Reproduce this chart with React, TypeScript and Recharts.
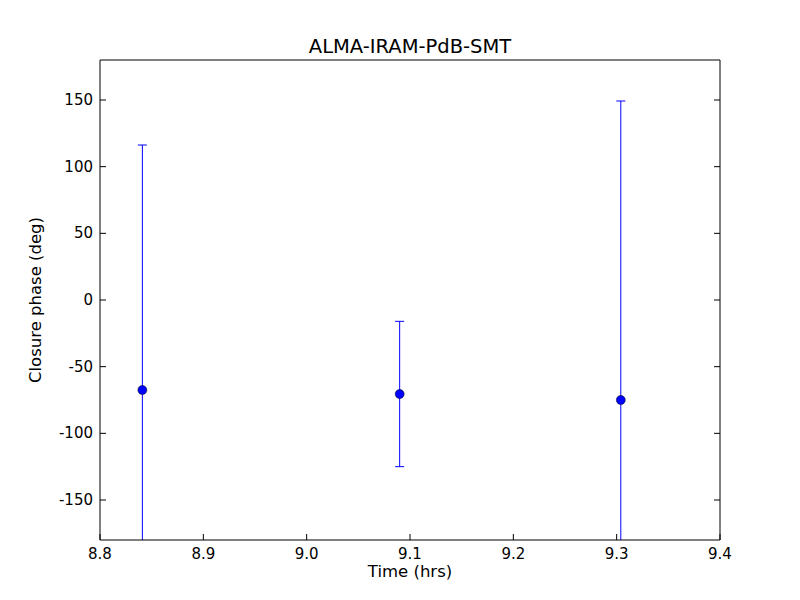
import { ErrorBar, Scatter, ScatterChart, XAxis, YAxis } from "recharts";

const TIMES = [8.841, 9.09, 9.304];
const PHASES = [-67.5, -70.5, -75];
const ERRORS = [183.75, 54.5, 224.25];
const X_TICKS = [8.8, 8.9, 9.0, 9.1, 9.2, 9.3, 9.4];
const Y_TICKS = [-150, -100, -50, 0, 50, 100, 150];

const FONT = "'DejaVu Sans', sans-serif";
const TICK_LEN = 6;
const TICK_FONT = 15;
const LABEL_FONT = 16.5;

const data = TIMES.map((t, i) => ({ t, phase: PHASES[i], err: ERRORS[i] }));

// matplotlib-style inward ticks; tickSize/tickMargin are 0 so x,y sit on the axis line
function BottomTick({ x, y, payload }: any) {
  return (
    <g>
      <line x1={x} y1={y} x2={x} y2={y - TICK_LEN} stroke="#000" />
      <text x={x} y={y + 19} textAnchor="middle" fontFamily={FONT} fontSize={TICK_FONT} fill="#000">
        {Number(payload.value).toFixed(1)}
      </text>
    </g>
  );
}

function LeftTick({ x, y, payload }: any) {
  return (
    <g>
      <line x1={x} y1={y} x2={x + TICK_LEN} y2={y} stroke="#000" />
      <text x={x - 7} y={y + 5} textAnchor="end" fontFamily={FONT} fontSize={TICK_FONT} fill="#000">
        {payload.value}
      </text>
    </g>
  );
}

function TopTick({ x, y }: any) {
  return <line x1={x} y1={y} x2={x} y2={y + TICK_LEN} stroke="#000" />;
}

function RightTick({ x, y }: any) {
  return <line x1={x} y1={y} x2={x - TICK_LEN} y2={y} stroke="#000" />;
}

function Dot({ cx, cy }: any) {
  return <circle cx={cx} cy={cy} r={4.5} fill="#0000ff" stroke="#000" strokeWidth={0.5} />;
}

export default function App() {
  return (
    <div style={{ position: "absolute", left: 0, top: 0, width: 800, height: 600, background: "#fff" }}>
      {/* error bars get drawn outside the scatter's clip layer, so clip them to the plot box here */}
      <style>{`.recharts-errorBars, .recharts-errorBar { clip-path: url(#plot-clip); }`}</style>
      <svg width={0} height={0} style={{ position: "absolute" }}>
        <defs>
          <clipPath id="plot-clip">
            <rect x={100} y={60} width={620} height={480} />
          </clipPath>
        </defs>
      </svg>
      <ScatterChart width={800} height={600} margin={{ top: 0, right: 0, bottom: 0, left: 0 }}>
        <XAxis
          xAxisId="b"
          type="number"
          dataKey="t"
          domain={[8.8, 9.4]}
          ticks={X_TICKS}
          allowDataOverflow
          height={60}
          tickSize={0}
          tickMargin={0}
          axisLine={{ stroke: "#000" }}
          tick={<BottomTick />}
          label={{
            content: () => (
              <text x={410} y={577} textAnchor="middle" fontFamily={FONT} fontSize={LABEL_FONT} fill="#000">
                Time (hrs)
              </text>
            ),
          }}
        />
        <XAxis
          xAxisId="t"
          orientation="top"
          type="number"
          domain={[8.8, 9.4]}
          ticks={X_TICKS}
          allowDataOverflow
          height={60}
          tickSize={0}
          tickMargin={0}
          axisLine={{ stroke: "#000" }}
          tick={<TopTick />}
          label={{
            content: () => (
              <text x={410} y={53} textAnchor="middle" fontFamily={FONT} fontSize={19.5} fill="#000">
                ALMA-IRAM-PdB-SMT
              </text>
            ),
          }}
        />
        <YAxis
          yAxisId="l"
          type="number"
          dataKey="phase"
          domain={[-180, 180]}
          ticks={Y_TICKS}
          allowDataOverflow
          width={100}
          tickSize={0}
          tickMargin={0}
          axisLine={{ stroke: "#000" }}
          tick={<LeftTick />}
          label={{
            content: () => (
              <text
                x={41}
                y={300}
                transform="rotate(-90 41 300)"
                textAnchor="middle"
                fontFamily={FONT}
                fontSize={LABEL_FONT}
                fill="#000"
              >
                Closure phase (deg)
              </text>
            ),
          }}
        />
        <YAxis
          yAxisId="r"
          orientation="right"
          type="number"
          domain={[-180, 180]}
          ticks={Y_TICKS}
          allowDataOverflow
          width={80}
          tickSize={0}
          tickMargin={0}
          axisLine={{ stroke: "#000" }}
          tick={<RightTick />}
        />
        <Scatter
          data={data}
          xAxisId="b"
          yAxisId="l"
          dataKey="phase"
          shape={<Dot />}
          isAnimationActive={false}
        >
          <ErrorBar dataKey="err" direction="y" width={4.5} stroke="#0000ff" strokeWidth={1} isAnimationActive={false} />
        </Scatter>
      </ScatterChart>
    </div>
  );
}
